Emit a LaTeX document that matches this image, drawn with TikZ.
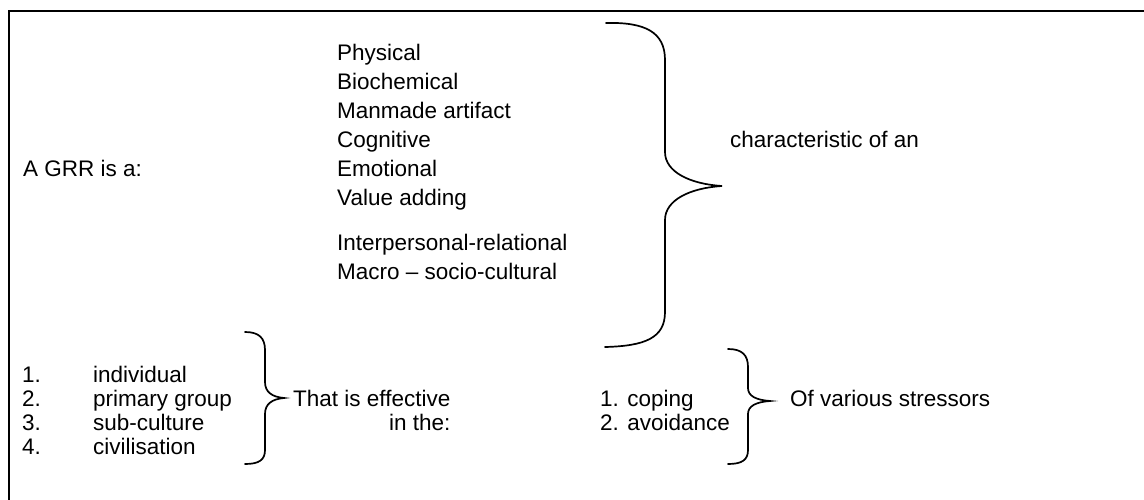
\documentclass[tikz,border=0pt]{standalone}
\usepackage{fontspec}
\setmainfont{Liberation Sans}
\begin{document}
\begin{tikzpicture}[x=1pt,y=-1pt,
  txt/.style={anchor=base west,inner sep=0pt,font=\fontsize{22.5}{26}\selectfont},
  txte/.style={anchor=base east,inner sep=0pt,font=\fontsize{22.5}{26}\selectfont},
  bracepath/.style={line width=1.7pt,line cap=round},
  framepath/.style={line width=1.8pt}]
\useasboundingbox (0,0) rectangle (1144,500);
\draw[framepath] (1144,11) -- (9,11) -- (9,500);
% top list
\node[txt] (phys) at (337,61) {Physical};
\node[txt] (bioc) at (337,90) {Biochemical};
\node[txt] (manm) at (337,119) {Manmade artifact};
\node[txt] (cogn) at (337,148) {Cognitive};
\node[txt] (emot) at (337,177) {Emotional};
\node[txt] (valu) at (337,206) {Value adding};
\node[txt] (inte) at (337,250) {Interpersonal-relational};
\node[txt] (macr) at (337,279) {Macro -- socio-cultural};
\node[txt] (grr) at (23,177) {A GRR is a:};
\node[txt] (char) at (730,148) {characteristic of an};
% big brace
\draw[bracepath] (606,23) .. controls (645,22) and (665,32) .. (665,60)
  -- (665,152) .. controls (665,172) and (690,184) .. (722,186)
  .. controls (690,188) and (665,200) .. (665,220)
  -- (665,312) .. controls (665,338) and (645,346) .. (605,347);
% lower left
\node[txt] (n1) at (22,382) {1.};
\node[txt] (n2) at (22,406) {2.};
\node[txt] (n3) at (22,430) {3.};
\node[txt] (n4) at (22,454) {4.};
\node[txt] (indi) at (93,382) {individual};
\node[txt] (prim) at (93,406) {primary group};
\node[txt] (subc) at (93,430) {sub-culture};
\node[txt] (civi) at (93,454) {civilisation};
\draw[bracepath] (245,332) .. controls (259,332) and (265,338) .. (265,350)
  -- (265,382) .. controls (265,392) and (272,397) .. (284,398)
  .. controls (272,399) and (265,404) .. (265,414)
  -- (265,450) .. controls (265,460) and (259,464) .. (245,464);
\node[txt] (eff) at (293,406) {That is effective};
\node[txte] (inth) at (eff.base east |- 0,430) {in the:};
% lower right
\node[txt] (cop) at (600,406) {1. coping};
\node[txt] (avo) at (600,430) {2. avoidance};
\draw[bracepath] (728,349) .. controls (742,349) and (748,355) .. (748,367)
  -- (748,388) .. controls (748,396) and (756,400) .. (770,401)
  .. controls (756,402) and (748,406) .. (748,414)
  -- (748,450) .. controls (748,460) and (742,464) .. (728,464);
\node[txt] (str) at (790,406) {Of various stressors};
\end{tikzpicture}
\end{document}
